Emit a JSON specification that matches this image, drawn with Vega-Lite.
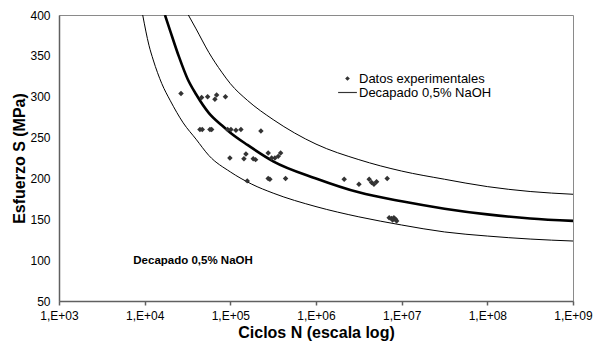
{
  "$schema": "https://vega.github.io/schema/vega-lite/v6.json",
  "width": 514,
  "height": 286,
  "autosize": "none",
  "padding": {"left": 59, "top": 15, "right": 21, "bottom": 44},
  "background": "white",
  "config": {
    "font": "Liberation Sans",
    "view": {"stroke": "#8a8a8a", "strokeWidth": 1},
    "axis": {
      "grid": false,
      "labelFont": "Liberation Sans",
      "labelFontSize": 12,
      "labelColor": "#000000",
      "titleFont": "Liberation Sans",
      "titleFontSize": 16,
      "titleFontWeight": "bold",
      "titleColor": "#000000",
      "domainColor": "#606060",
      "domainWidth": 1.5,
      "tickColor": "#606060",
      "tickWidth": 1.5
    }
  },
  "datasets": {
    "curvas": [
      {"curva": "central", "N": 17258, "S": 400},
      {"curva": "central", "N": 19953, "S": 380},
      {"curva": "central", "N": 25119, "S": 349},
      {"curva": "central", "N": 31623, "S": 322},
      {"curva": "central", "N": 39811, "S": 303},
      {"curva": "central", "N": 56234, "S": 280},
      {"curva": "central", "N": 79433, "S": 265},
      {"curva": "central", "N": 100000, "S": 256},
      {"curva": "central", "N": 158489, "S": 241},
      {"curva": "central", "N": 316228, "S": 221},
      {"curva": "central", "N": 1000000, "S": 200},
      {"curva": "central", "N": 3162278, "S": 183},
      {"curva": "central", "N": 10000000, "S": 172},
      {"curva": "central", "N": 31622777, "S": 163},
      {"curva": "central", "N": 100000000, "S": 156},
      {"curva": "central", "N": 316227766, "S": 151},
      {"curva": "central", "N": 1000000000, "S": 148},
      {"curva": "superior", "N": 32359, "S": 400},
      {"curva": "superior", "N": 39811, "S": 383},
      {"curva": "superior", "N": 56234, "S": 354},
      {"curva": "superior", "N": 79433, "S": 330},
      {"curva": "superior", "N": 100000, "S": 316},
      {"curva": "superior", "N": 158489, "S": 295.5},
      {"curva": "superior", "N": 316228, "S": 272},
      {"curva": "superior", "N": 1000000, "S": 242},
      {"curva": "superior", "N": 3162278, "S": 223},
      {"curva": "superior", "N": 10000000, "S": 209},
      {"curva": "superior", "N": 31622777, "S": 199},
      {"curva": "superior", "N": 100000000, "S": 190},
      {"curva": "superior", "N": 316227766, "S": 184},
      {"curva": "superior", "N": 1000000000, "S": 180.6},
      {"curva": "inferior", "N": 9484, "S": 400},
      {"curva": "inferior", "N": 11220, "S": 363},
      {"curva": "inferior", "N": 12589, "S": 345},
      {"curva": "inferior", "N": 15849, "S": 316},
      {"curva": "inferior", "N": 19953, "S": 295},
      {"curva": "inferior", "N": 28184, "S": 268},
      {"curva": "inferior", "N": 39811, "S": 248},
      {"curva": "inferior", "N": 56234, "S": 228},
      {"curva": "inferior", "N": 100000, "S": 208},
      {"curva": "inferior", "N": 177828, "S": 193},
      {"curva": "inferior", "N": 316228, "S": 182},
      {"curva": "inferior", "N": 1000000, "S": 165.5},
      {"curva": "inferior", "N": 3162278, "S": 153},
      {"curva": "inferior", "N": 10000000, "S": 143},
      {"curva": "inferior", "N": 31622777, "S": 134.5},
      {"curva": "inferior", "N": 100000000, "S": 129.5},
      {"curva": "inferior", "N": 316227766, "S": 125.8},
      {"curva": "inferior", "N": 1000000000, "S": 123.4}
    ],
    "ensayos": [
      {"serie": "Datos experimentales", "N": 26550, "S": 304},
      {"serie": "Datos experimentales", "N": 46240, "S": 299},
      {"serie": "Datos experimentales", "N": 54330, "S": 300},
      {"serie": "Datos experimentales", "N": 66070, "S": 297},
      {"serie": "Datos experimentales", "N": 69180, "S": 302},
      {"serie": "Datos experimentales", "N": 87700, "S": 300},
      {"serie": "Datos experimentales", "N": 44160, "S": 260},
      {"serie": "Datos experimentales", "N": 46990, "S": 260},
      {"serie": "Datos experimentales", "N": 57800, "S": 260},
      {"serie": "Datos experimentales", "N": 60530, "S": 260},
      {"serie": "Datos experimentales", "N": 92950, "S": 260},
      {"serie": "Datos experimentales", "N": 101600, "S": 260},
      {"serie": "Datos experimentales", "N": 116200, "S": 259},
      {"serie": "Datos experimentales", "N": 132900, "S": 260},
      {"serie": "Datos experimentales", "N": 227500, "S": 258},
      {"serie": "Datos experimentales", "N": 98850, "S": 225},
      {"serie": "Datos experimentales", "N": 144200, "S": 224},
      {"serie": "Datos experimentales", "N": 152200, "S": 230},
      {"serie": "Datos experimentales", "N": 185000, "S": 224},
      {"serie": "Datos experimentales", "N": 197200, "S": 223},
      {"serie": "Datos experimentales", "N": 276700, "S": 231},
      {"serie": "Datos experimentales", "N": 303300, "S": 225},
      {"serie": "Datos experimentales", "N": 331400, "S": 225},
      {"serie": "Datos experimentales", "N": 362300, "S": 227},
      {"serie": "Datos experimentales", "N": 386300, "S": 231},
      {"serie": "Datos experimentales", "N": 157500, "S": 197},
      {"serie": "Datos experimentales", "N": 276700, "S": 200},
      {"serie": "Datos experimentales", "N": 289700, "S": 199},
      {"serie": "Datos experimentales", "N": 441300, "S": 200},
      {"serie": "Datos experimentales", "N": 2133000, "S": 199},
      {"serie": "Datos experimentales", "N": 3170000, "S": 193},
      {"serie": "Datos experimentales", "N": 4180000, "S": 199},
      {"serie": "Datos experimentales", "N": 4460000, "S": 195},
      {"serie": "Datos experimentales", "N": 4745000, "S": 193},
      {"serie": "Datos experimentales", "N": 5097000, "S": 196},
      {"serie": "Datos experimentales", "N": 6776000, "S": 200},
      {"serie": "Datos experimentales", "N": 7145000, "S": 152},
      {"serie": "Datos experimentales", "N": 7620000, "S": 151},
      {"serie": "Datos experimentales", "N": 8107000, "S": 152},
      {"serie": "Datos experimentales", "N": 8490000, "S": 150},
      {"serie": "Datos experimentales", "N": 8730000, "S": 148},
      {"serie": "Datos experimentales", "N": 7840000, "S": 149}
    ],
    "rotulo": [
      {"N": 36700, "S": 99, "texto": "Decapado 0,5% NaOH"}
    ]
  },
  "encoding": {
    "x": {
      "field": "N",
      "type": "quantitative",
      "scale": {"type": "log", "domain": [1000, 1000000000]},
      "axis": {
        "title": "Ciclos N (escala log)",
        "values": [1000, 10000, 100000, 1000000, 10000000, 100000000, 1000000000],
        "labelExpr": "'1,E+0' + round(log(datum.value) / LN10)",
        "labelFlush": false,
        "tickSize": 4,
        "labelPadding": 5,
        "titlePadding": 3
      }
    },
    "y": {
      "field": "S",
      "type": "quantitative",
      "scale": {"domain": [50, 400]},
      "axis": {
        "title": "Esfuerzo S (MPa)",
        "values": [50, 100, 150, 200, 250, 300, 350, 400],
        "ticks": false,
        "labelPadding": 9,
        "titlePadding": 2
      }
    }
  },
  "layer": [
    {
      "data": {"name": "curvas"},
      "transform": [{"filter": "datum.curva !== 'central'"}],
      "mark": {"type": "line", "clip": true, "interpolate": "monotone", "color": "#000000", "strokeWidth": 1},
      "encoding": {"detail": {"field": "curva"}}
    },
    {
      "data": {"name": "curvas"},
      "transform": [{"filter": "datum.curva === 'central'"}],
      "mark": {"type": "line", "clip": true, "interpolate": "monotone", "color": "#000000", "strokeWidth": 2.6},
      "encoding": {}
    },
    {
      "data": {"name": "ensayos"},
      "mark": {"type": "point", "filled": true, "color": "#333333", "size": 30, "opacity": 1},
      "encoding": {
        "shape": {
          "field": "serie",
          "type": "nominal",
          "scale": {
            "domain": ["Datos experimentales", "Decapado 0,5% NaOH"],
            "range": ["diamond", "M-4,-0.25H4V0.25H-4Z"]
          },
          "legend": {
            "title": null,
            "orient": "none",
            "legendX": 282,
            "legendY": 57,
            "symbolSize": 22,
            "symbolFillColor": "#111111",
            "symbolOpacity": 1,
            "labelFont": "Liberation Sans",
            "labelFontSize": 13,
            "labelColor": "#000000",
            "labelOffset": 5,
            "rowPadding": -3
          }
        }
      }
    },
    {
      "data": {"name": "rotulo"},
      "mark": {"type": "text", "font": "Liberation Sans", "fontSize": 11.5, "fontWeight": "bold", "color": "#000000", "align": "center", "baseline": "middle"},
      "encoding": {"text": {"field": "texto"}}
    }
  ]
}
